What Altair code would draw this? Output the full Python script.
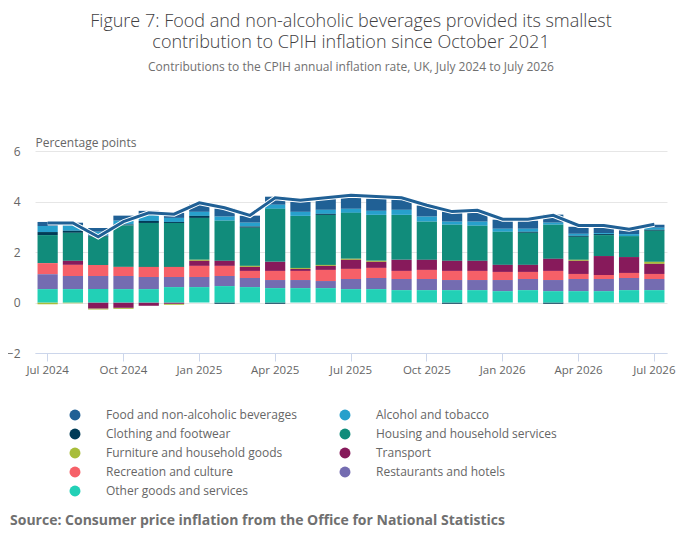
import altair as alt
import pandas as pd

months = ["Jul 2024", "Aug 2024", "Sep 2024", "Oct 2024", "Nov 2024", "Dec 2024",
          "Jan 2025", "Feb 2025", "Mar 2025", "Apr 2025", "May 2025", "Jun 2025",
          "Jul 2025", "Aug 2025", "Sep 2025", "Oct 2025", "Nov 2025", "Dec 2025",
          "Jan 2026", "Feb 2026", "Mar 2026", "Apr 2026", "May 2026", "Jun 2026",
          "Jul 2026"]
tick_months = ["Jul 2024", "Oct 2024", "Jan 2025", "Apr 2025", "Jul 2025",
               "Oct 2025", "Jan 2026", "Apr 2026", "Jul 2026"]

categories = ["Food and non-alcoholic beverages", "Alcohol and tobacco",
              "Clothing and footwear", "Housing and household services",
              "Furniture and household goods", "Transport", "Recreation and culture",
              "Restaurants and hotels", "Other goods and services"]
colors = ["#206095", "#27a0cc", "#003c57", "#118c7b", "#a8bd3a",
          "#871a5b", "#f66068", "#746cb1", "#22d0b6"]
# stacking position from the bottom (0 = nearest zero)
stack_rank = [8, 7, 6, 5, 4, 3, 2, 1, 0]

food = [0.16, 0.11, 0.15, 0.20, 0.16, 0.20, 0.30, 0.32, 0.28, 0.32, 0.40, 0.44, 0.50,
        0.48, 0.40, 0.44, 0.40, 0.40, 0.36, 0.32, 0.32, 0.28, 0.20, 0.16, 0.12]
alcohol = [0.24, 0.21, 0.16, 0.15, 0.24, 0.16, 0.16, 0.16, 0.15, 0.16, 0.16, 0.16, 0.16,
           0.16, 0.20, 0.20, 0.12, 0.16, 0.12, 0.12, 0.08, 0.08, 0.04, 0.08, 0.08]
clothing = [0.12, 0.08, 0.04, 0.04, 0.08, 0.04, 0.08, -0.05, 0.05, -0.05, 0.0, 0.04, 0.0,
            0.0, 0.0, 0.0, -0.05, 0.0, 0.0, 0.04, -0.05, 0.04, 0.04, 0.0, 0.04]
housing = [1.11, 1.11, 1.11, 1.64, 1.74, 1.74, 1.66, 1.59, 1.51, 2.10, 2.06, 1.98, 1.82,
           1.82, 1.78, 1.51, 1.43, 1.39, 1.31, 1.27, 1.35, 0.91, 0.83, 0.83, 1.23]
furniture = [-0.07, -0.03, -0.04, -0.04, 0.0, -0.04, 0.04, 0.0, 0.04, 0.0, 0.04, 0.04, 0.04,
             0.04, 0.0, 0.0, 0.0, 0.0, 0.0, 0.0, 0.0, 0.04, 0.0, 0.0, 0.08]
transport = [0.0, 0.16, -0.24, -0.21, -0.13, -0.05, 0.20, 0.20, 0.16, 0.36, 0.08, 0.16, 0.36,
             0.24, 0.44, 0.40, 0.40, 0.40, 0.28, 0.28, 0.48, 0.52, 0.75, 0.63, 0.40]
recreation = [0.44, 0.44, 0.44, 0.36, 0.40, 0.40, 0.44, 0.40, 0.28, 0.36, 0.36, 0.44, 0.40,
              0.40, 0.32, 0.36, 0.36, 0.36, 0.32, 0.28, 0.36, 0.20, 0.16, 0.20, 0.20]
restaurants = [0.59, 0.52, 0.52, 0.52, 0.48, 0.40, 0.40, 0.40, 0.36, 0.32, 0.32, 0.28, 0.40,
               0.44, 0.44, 0.44, 0.40, 0.40, 0.44, 0.44, 0.44, 0.48, 0.48, 0.48, 0.44]
other = [0.53, 0.53, 0.53, 0.53, 0.53, 0.61, 0.61, 0.65, 0.61, 0.57, 0.57, 0.57, 0.53,
         0.53, 0.49, 0.49, 0.49, 0.49, 0.45, 0.49, 0.45, 0.45, 0.45, 0.49, 0.49]
cpih_total = [3.15, 3.15, 2.6, 3.2, 3.55, 3.5, 3.95, 3.75, 3.45, 4.15, 4.05, 4.15, 4.25,
              4.2, 4.15, 3.85, 3.6, 3.65, 3.3, 3.3, 3.45, 3.05, 3.05, 2.9, 3.1]

series = [food, alcohol, clothing, housing, furniture, transport, recreation,
          restaurants, other]

rows = []
for cat, rank, vals in zip(categories, stack_rank, series):
    for m, v in zip(months, vals):
        rows.append({"month": m, "category": cat, "value": v, "rank": rank})
bars_df = pd.DataFrame(rows)
line_df = pd.DataFrame({"month": months, "total": cpih_total})

FONT = "Open Sans"

x_enc = alt.X("month:O", sort=months,
              scale=alt.Scale(domain=months, paddingInner=0.2, paddingOuter=0.1),
              axis=alt.Axis(values=tick_months, labelAngle=0, title=None, grid=False,
                            domainColor="#ccd6eb", tickColor="#ccd6eb", tickSize=8,
                            labelColor="#666666", labelFontSize=11.5, labelPadding=3,
                            labelFont=FONT))

y_scale = alt.Scale(domain=[-2, 6], nice=False)

bars = alt.Chart(bars_df).mark_bar().encode(
    x=x_enc,
    y=alt.Y("value:Q", stack="zero", scale=y_scale,
            axis=alt.Axis(values=[-2, 0, 2, 4, 6], title="Percentage points",
                          titleAngle=0, titleX=0, titleY=-2, titleAlign="left",
                          titleBaseline="bottom", titleFont=FONT, titleFontSize=12,
                          titleFontWeight="normal", titleColor="#666666",
                          domain=False, ticks=False, gridColor="#e6e6e6",
                          labelColor="#666666", labelFontSize=12, labelPadding=15,
                          labelFont=FONT)),
    color=alt.Color("category:N",
                    scale=alt.Scale(domain=categories, range=colors),
                    legend=alt.Legend(orient="none", legendX=34, legendY=258,
                                      direction="horizontal", columns=2, title=None,
                                      symbolType="circle",
                                      symbolSize=120, symbolStrokeWidth=0,
                                      labelFont=FONT, labelFontSize=12,
                                      labelColor="#666666", labelOffset=25,
                                      rowPadding=7, columnPadding=42, padding=0,
                                      labelLimit=300)),
    order=alt.Order("rank:Q", sort="ascending"),
)

line_halo = alt.Chart(line_df).mark_line(color="white", strokeWidth=5).encode(
    x=alt.X("month:O", sort=months), y=alt.Y("total:Q", scale=y_scale))
line = alt.Chart(line_df).mark_line(color="#206095", strokeWidth=3).encode(
    x=alt.X("month:O", sort=months), y=alt.Y("total:Q", scale=y_scale))

source = alt.Chart(pd.DataFrame({"t": ["Source: Consumer price inflation from the Office for National Statistics"]})).mark_text(
    align="left", baseline="middle", font=FONT, fontSize=14, fontWeight="bold",
    color="#707070").encode(text="t:N", x=alt.value(-25), y=alt.value(370))

chart = alt.layer(bars, line_halo, line, source).properties(
    width=632, height=202,
    autosize=alt.AutoSizeParams(type="none"),
    padding={"left": 27, "top": 143, "right": 20, "bottom": 185},
    title=alt.TitleParams(
        text=["Figure 7: Food and non-alcoholic beverages provided its smallest",
              "contribution to CPIH inflation since October 2021"],
        subtitle="Contributions to the CPIH annual inflation rate, UK, July 2024 to July 2026",
        font=FONT, fontSize=18, fontWeight=300, color="#414042", lineHeight=21,
        subtitleFont=FONT, subtitleFontSize=12, subtitleColor="#707070",
        subtitlePadding=10, anchor="middle", offset=63),
).configure_view(stroke=None)

chart.save("out.html", embed_options={"renderer": "svg", "actions": False})
